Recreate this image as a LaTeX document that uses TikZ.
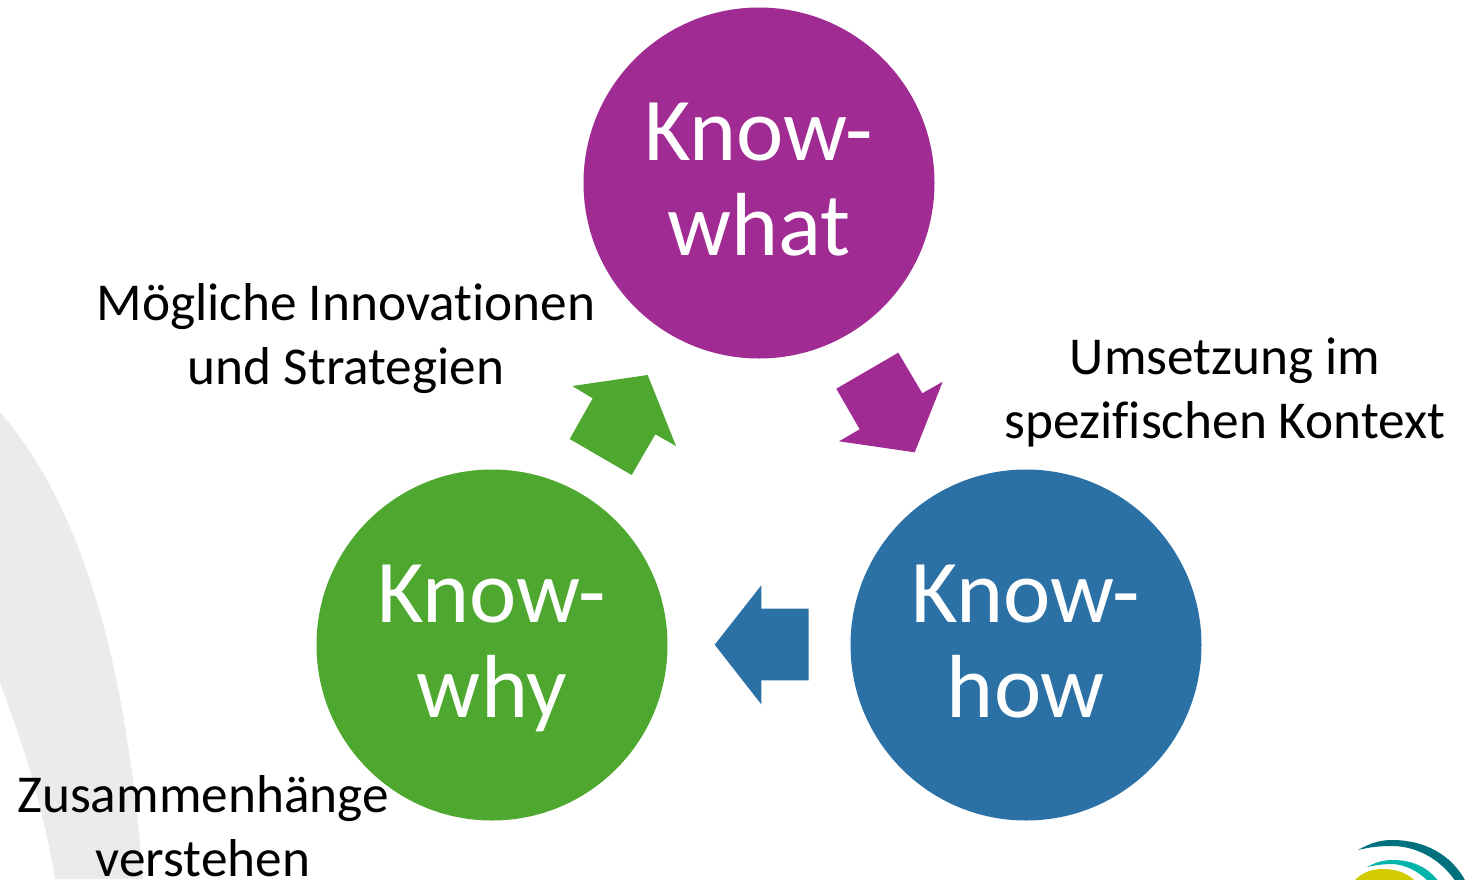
\documentclass[tikz,border=0pt]{standalone}
\usepackage{fontspec}
\setmainfont{Carlito}[Ligatures=NoCommon]
\definecolor{kwhat}{HTML}{A02B93}
\definecolor{kwhy}{HTML}{4EA72E}
\definecolor{khow}{HTML}{2C71A6}
\definecolor{band}{HTML}{EBEBEB}
\definecolor{logoa}{HTML}{00707C}
\definecolor{logob}{HTML}{00B4AA}
\definecolor{logoc}{HTML}{D2CB00}
\tikzset{
  x=1pt,y=-1pt,
  knowcircle/.style={circle,inner sep=0pt,minimum size=351pt,text=white,align=center,
    text depth=8pt,font=\fontsize{89.6}{95}\selectfont},
  caption/.style={align=center,text=black,inner sep=0pt,font=\fontsize{53.3}{64}\selectfont}
}
\begin{document}
\begin{tikzpicture}
\useasboundingbox (0,0) rectangle (1476,879);
\begin{scope}
\clip (0,0) rectangle (1476,879);
\fill[white] (0,0) rectangle (1476,879);
% grey band
\fill[band] (0,412) .. controls (85,510) and (127,670) .. (143,879) -- (55,879)
  .. controls (44,810) and (22,740) .. (0,683) -- cycle;
% logo
\fill[logoa] (1358,850) .. controls (1372,842) and (1382,840) .. (1392,840)
  .. controls (1425,840) and (1452,855) .. (1466,882) -- (1456,882)
  .. controls (1440,858) and (1415,846) .. (1392,846)
  .. controls (1380,846) and (1370,847) .. (1358,850) -- cycle;
\fill[logob] (1367,867) .. controls (1376,862) and (1384,860) .. (1393,860)
  .. controls (1412,860) and (1428,867) .. (1439,882) -- (1429,882)
  .. controls (1418,871) and (1406,865) .. (1393,864)
  .. controls (1384,864) and (1376,865) .. (1367,867) -- cycle;
\fill[logoc] (1353,882) .. controls (1362,872) and (1372,869) .. (1383,869)
  .. controls (1396,869) and (1408,873) .. (1416,882) -- cycle;
\end{scope}
% circles
\node[knowcircle,fill=kwhat] (what) at (759,183) {Know-\\what};
\node[knowcircle,fill=kwhy] (why) at (492,645) {Know-\\why};
\node[knowcircle,fill=khow] (how) at (1026,645) {Know-\\how};
% block arrows
\fill[kwhy] (647.7,375) -- (676,446) -- (655.3,434.3) -- (631.7,475) -- (569.7,439) -- (592.7,398.3) -- (572.3,386) -- cycle;
\fill[kwhat] (898.3,352.7) -- (922.3,393.3) -- (942.7,381.7) -- (914.7,452.3) -- (839,441.3) -- (859.7,429.3) -- (836.3,388.7) -- cycle;
\fill[khow] (714.7,644.7) -- (761.3,585.3) -- (761.3,608.7) -- (808.7,608.7) -- (808.7,680.3) -- (761.3,680.3) -- (761.3,704.3) -- cycle;
% captions
\node[caption] (capa) at (346,339) {Mögliche Innovationen\\und Strategien};
\node[caption] (capb) at (1225,392) {Umsetzung im\\spezifischen Kontext};
\node[caption] (capc) at (203,826) {Zusammenhänge\\verstehen};
\end{tikzpicture}
\end{document}
